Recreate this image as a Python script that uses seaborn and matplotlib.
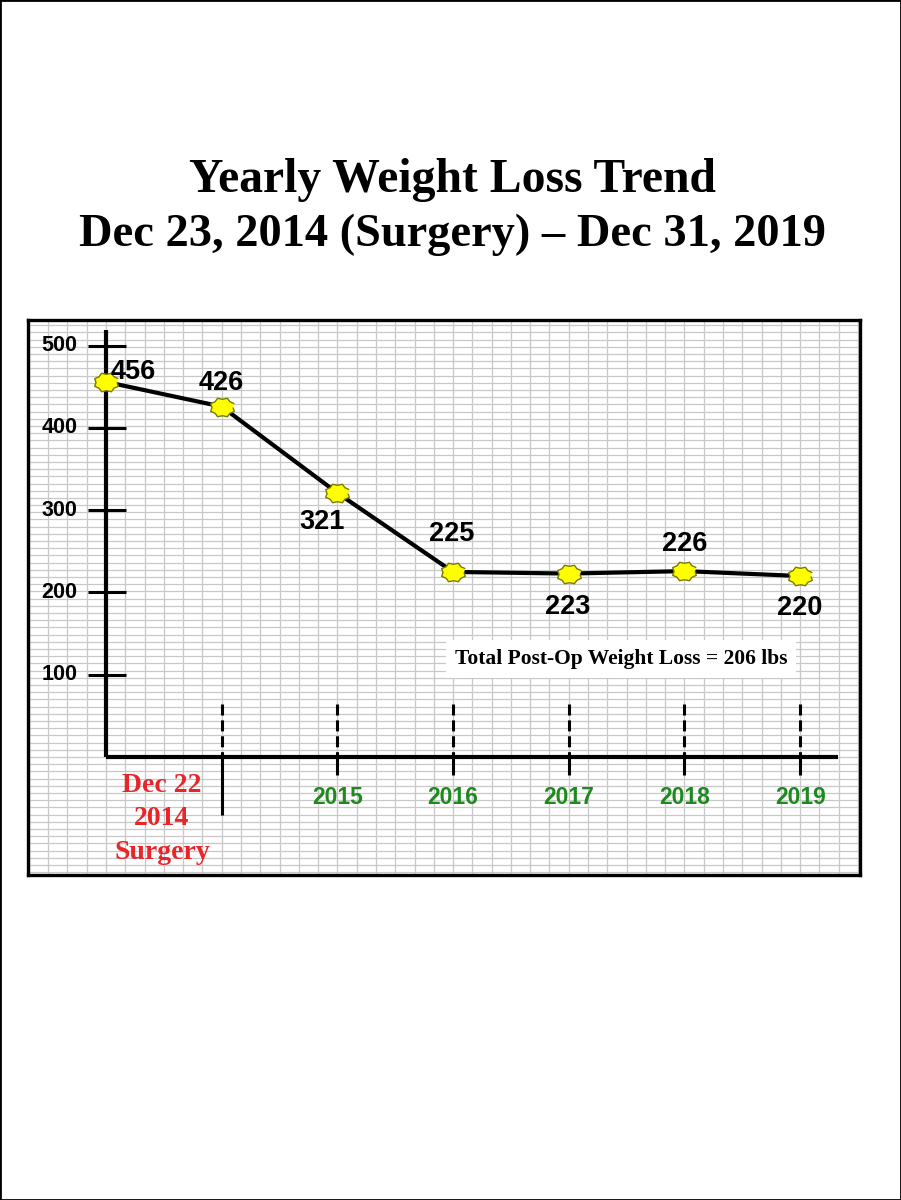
import numpy as np
import matplotlib
matplotlib.use("Agg")
import matplotlib.pyplot as plt
from matplotlib.ticker import MultipleLocator
from matplotlib.patches import Rectangle
import seaborn as sns

# data
positions = [0, 1, 2, 3, 4, 5, 6]
weights = [456, 426, 321, 225, 223, 226, 220]
tick_pos = [1, 2, 3, 4, 5, 6]
tick_labels = ["Dec 22\n2014\nSurgery", "2015", "2016", "2017", "2018", "2019"]
yticks = [100, 200, 300, 400, 500]
total_loss = weights[1] - weights[-1]

# label offsets (pixels) for each point label
label_dx = [27, 0, -15, -1, -1, 0, 0]
label_dy = [10, 24, -29, 38, -33, 27, -32]

sns.set_style("white")
plt.rcParams["font.family"] = ["Liberation Sans", "DejaVu Sans"]
plt.rcParams["text.color"] = "black"

# little 8 point burst marker like the drawing
ang = np.linspace(0, 2 * np.pi, 17)[:-1] + np.pi / 8
rad = np.where(np.arange(16) % 2 == 0, 1.0, 0.82)
burst = np.column_stack([1.15 * rad * np.cos(ang), 0.9 * rad * np.sin(ang)])

fig = plt.figure(figsize=(9.01, 12), dpi=100)
fig.patch.set_facecolor("white")
fig.patches.append(Rectangle((0, 0), 1, 1, transform=fig.transFigure,
                             fill=False, ec="black", lw=2))

serif = ["Liberation Serif", "DejaVu Serif"]
fig.text(0.5017, 1 - 192 / 1200, "Yearly Weight Loss Trend", ha="center",
         va="baseline", fontsize=34.3, fontweight="bold", family=serif)
fig.text(0.5017, 1 - 246 / 1200, "Dec 23, 2014 (Surgery) \u2013 Dec 31, 2019",
         ha="center", va="baseline", fontsize=33.4, fontweight="bold", family=serif)

ax = fig.add_axes([28 / 901, (1200 - 875) / 1200, 832 / 901, 555 / 1200])
ax.set_xlim(-0.674, 6.517)
ax.set_ylim(-143.5, 531.3)

# excel style cell grid
ax.xaxis.set_minor_locator(MultipleLocator(1 / 6))
ax.yaxis.set_minor_locator(MultipleLocator(8.75))
ax.set_xticks([])
ax.set_yticks([])
ax.grid(which="minor", color="#c8c8c8", lw=0.9)
ax.tick_params(which="both", length=0)
ax.set_axisbelow(True)
for s in ax.spines.values():
    s.set_visible(True)
    s.set_color("black")
    s.set_linewidth(2.4)

# hand drawn axes
ax.plot([0, 0], [0, 519], color="black", lw=3, solid_capstyle="butt")
ax.plot([0, 6.33], [0, 0], color="black", lw=3, solid_capstyle="butt")
for v in yticks:
    ax.plot([-0.156, 0.173], [v, v], color="black", lw=2.2, solid_capstyle="butt")
    ax.text(-0.245, v, str(v), ha="right", va="center", fontsize=15.5, fontweight="bold")

for p in tick_pos:
    ax.plot([p, p], [65, 0], color="black", lw=2.2, dashes=(3.6, 1.6))
    low = -70.5 if p == 1 else -22
    ax.plot([p, p], [0, low], color="black", lw=2.2, solid_capstyle="butt")

for p, lab in zip(tick_pos, tick_labels):
    if p == 1:
        ax.text(p - 0.516, -75, lab, ha="center", va="center", fontsize=20,
                fontweight="bold", color="#e8262a", family=serif, linespacing=1.45)
    else:
        ax.text(p, -49, lab, ha="center", va="center", fontsize=16.5,
                fontweight="bold", color="#1e8a1e")

sns.lineplot(x=positions, y=weights, ax=ax, color="black", lw=3, marker=burst,
             markersize=17, markerfacecolor="#ffff00", markeredgecolor="#7a7a00",
             markeredgewidth=1, zorder=5)

for x, w, dx, dy in zip(positions, weights, label_dx, label_dy):
    ax.annotate(str(w), (x, w), xytext=(dx, dy), textcoords="offset pixels",
                ha="center", va="center", fontsize=19.5, fontweight="bold", zorder=6)

ax.text(4.45, 119, f"Total Post-Op Weight Loss = {total_loss} lbs", ha="center",
        va="center", fontsize=15.5, fontweight="bold", family=serif, zorder=6,
        bbox=dict(boxstyle="square,pad=0.4", fc="white", ec="none"))

fig.savefig("out.png", dpi=100)
